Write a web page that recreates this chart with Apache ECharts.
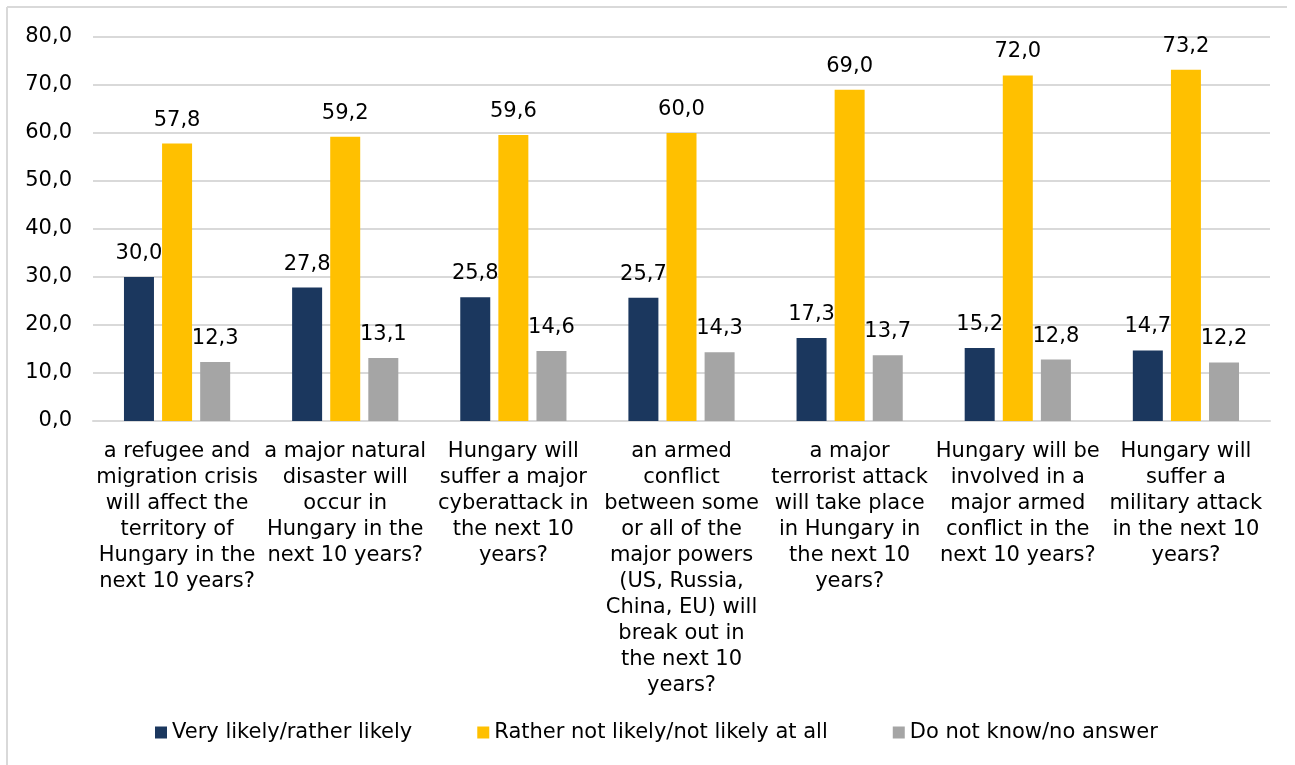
<!DOCTYPE html>
<html>
<head>
<meta charset="utf-8">
<script src="https://cdn.jsdelivr.net/npm/echarts@6/dist/echarts.min.js"></script>
<style>
  html, body { margin: 0; padding: 0; background: #fff; }
  #chart { width: 1295px; height: 765px; }
</style>
</head>
<body>
<div id="chart"></div>
<script>
// Survey questions (x-axis categories), wrapped as printed
const categories = [
  'a refugee and\nmigration crisis\nwill affect the\nterritory of\nHungary in the\nnext 10 years?',
  'a major natural\ndisaster will\noccur in\nHungary in the\nnext 10 years?',
  'Hungary will\nsuffer a major\ncyberattack in\nthe next 10\nyears?',
  'an armed\nconflict\nbetween some\nor all of the\nmajor powers\n(US, Russia,\nChina, EU) will\nbreak out in\nthe next 10\nyears?',
  'a major\nterrorist attack\nwill take place\nin Hungary in\nthe next 10\nyears?',
  'Hungary will be\ninvolved in a\nmajor armed\nconflict in the\nnext 10 years?',
  'Hungary will\nsuffer a\nmilitary attack\nin the next 10\nyears?'
];

const seriesNames = [
  'Very likely/rather likely',
  'Rather not likely/not likely at all',
  'Do not know/no answer'
];

// Shares of respondents (%)
const likely    = [30.0, 27.8, 25.8, 25.7, 17.3, 15.2, 14.7];
const notLikely = [57.8, 59.2, 59.6, 60.0, 69.0, 72.0, 73.2];
const noAnswer  = [12.3, 13.1, 14.6, 14.3, 13.7, 12.8, 12.2];

const colors = ['#1b375e', '#ffc000', '#a5a5a5'];

const FONT = 'DejaVu Sans, Verdana, sans-serif';
const FS = 21;
const fmt = v => Number(v).toFixed(1).replace('.', ',');

const chart = echarts.init(document.getElementById('chart'), null, { renderer: 'canvas' });

function barSeries(name, data, color) {
  return {
    name: name,
    type: 'bar',
    data: data,
    barWidth: 30,
    barGap: '27%',
    itemStyle: { color: color },
    label: {
      show: true,
      position: 'top',
      distance: 13,
      color: '#000',
      fontFamily: FONT,
      fontSize: FS,
      formatter: p => fmt(p.value)
    }
  };
}

chart.setOption({
  animation: false,
  color: colors,
  textStyle: { fontFamily: FONT },
  grid: { left: 93, right: 25, top: 37, bottom: 344, containLabel: false },
  legend: {
    left: 155,
    top: 722,
    padding: 0,
    itemWidth: 12,
    itemHeight: 12,
    itemGap: 65,
    icon: 'rect',
    textStyle: { fontFamily: FONT, fontSize: FS, color: '#000' },
    data: seriesNames
  },
  xAxis: {
    type: 'category',
    data: categories,
    axisLine: { lineStyle: { color: '#d9d9d9', width: 2 } },
    axisTick: { show: false },
    axisLabel: {
      interval: 0,
      margin: 18,
      color: '#000',
      fontFamily: FONT,
      fontSize: FS,
      lineHeight: 26,
      align: 'center'
    }
  },
  yAxis: {
    type: 'value',
    min: 0,
    max: 80,
    interval: 10,
    axisLine: { show: false },
    axisTick: { show: false },
    splitLine: { lineStyle: { color: '#d9d9d9', width: 2 } },
    axisLabel: {
      margin: 21,
      color: '#000',
      fontFamily: FONT,
      fontSize: FS,
      formatter: v => fmt(v)
    }
  },
  graphic: [
    { type: 'line', shape: { x1: 7, y1: 7, x2: 1287, y2: 7 }, style: { stroke: '#d9d9d9', lineWidth: 2 } },
    { type: 'line', shape: { x1: 7, y1: 7, x2: 7, y2: 765 }, style: { stroke: '#d9d9d9', lineWidth: 2 } }
  ],
  series: [
    barSeries(seriesNames[0], likely, colors[0]),
    barSeries(seriesNames[1], notLikely, colors[1]),
    barSeries(seriesNames[2], noAnswer, colors[2])
  ]
});
</script>
</body>
</html>
